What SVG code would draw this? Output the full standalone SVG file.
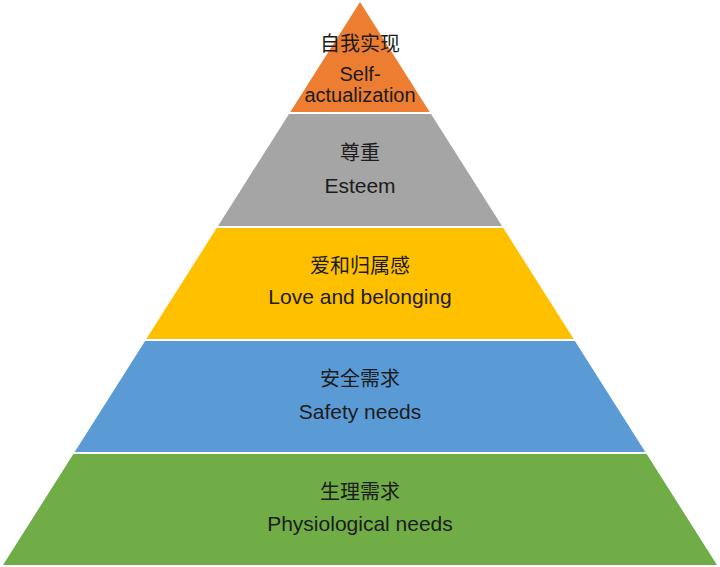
<svg xmlns="http://www.w3.org/2000/svg" width="720" height="567" viewBox="0 0 720 567">
<style>
.t{font-family:"Liberation Sans","Noto Sans CJK SC",Arial,sans-serif;fill:#1c1c1c;text-anchor:middle}
.zh{font-size:20px;font-family:"Noto Sans CJK SC","Liberation Sans",sans-serif}
.en{font-size:21px}
</style>
<rect width="720" height="567" fill="#ffffff"/>
<g id="self-actualization">
<polygon points="360,2 429.7,112 290.3,112" fill="#ED7D31"/>
<text class="t zh" x="360" y="50.5">自我实现</text>
<text class="t en" x="360" y="81" style="font-size:20px">Self-</text>
<text class="t en" x="360" y="102" style="font-size:20px">actualization</text>
</g>
<g id="esteem">
<polygon points="289,114 431,114 502,226 218,226" fill="#A5A5A5"/>
<text class="t zh" x="360" y="160">尊重</text>
<text class="t en" x="360" y="193">Esteem</text>
</g>
<g id="love">
<polygon points="216.7,228 503.3,228 573.7,339 146.3,339" fill="#FFC000"/>
<text class="t zh" x="360" y="273">爱和归属感</text>
<text class="t en" x="360" y="304">Love and belonging</text>
</g>
<g id="safety">
<polygon points="145.1,341 574.9,341 645.3,452 74.7,452" fill="#5B9BD5"/>
<text class="t zh" x="360" y="386">安全需求</text>
<text class="t en" x="360" y="419">Safety needs</text>
</g>
<g id="physiological">
<polygon points="73.4,454 646.6,454 717,565 3,565" fill="#70AD47"/>
<text class="t zh" x="360" y="499">生理需求</text>
<text class="t en" x="360" y="531">Physiological needs</text>
</g>
</svg>
